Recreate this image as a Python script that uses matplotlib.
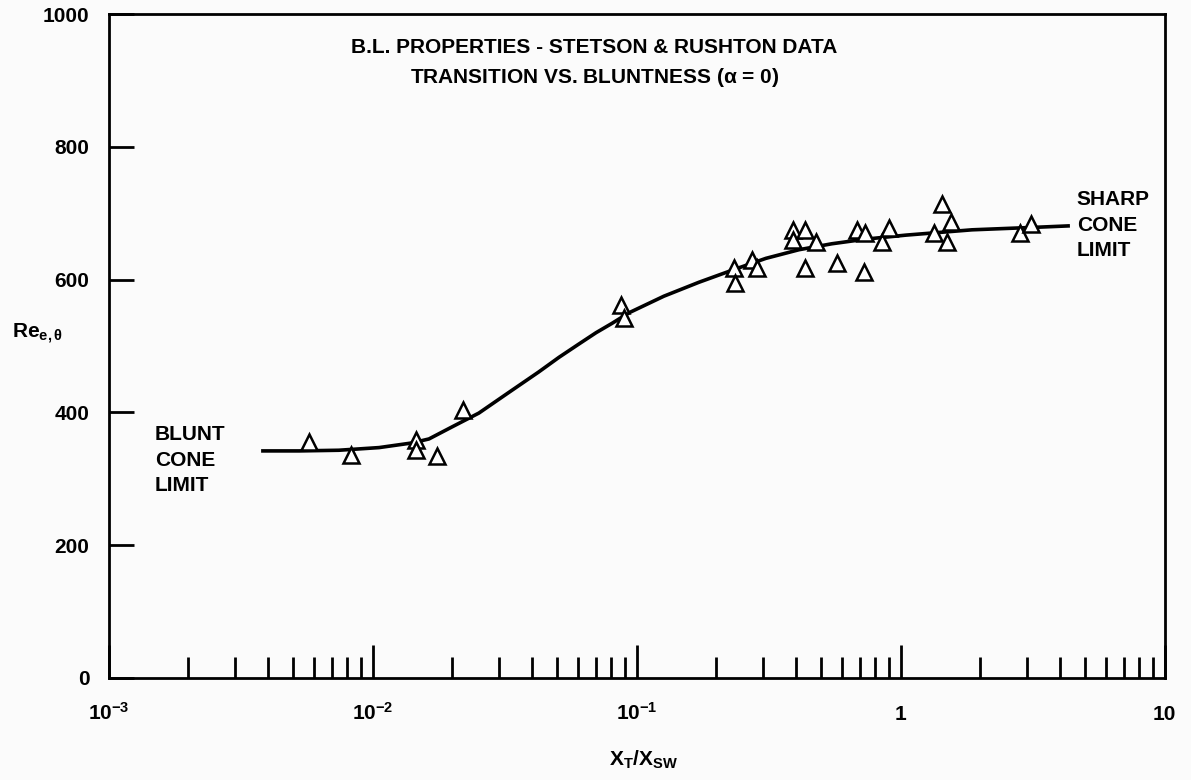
import numpy as np
import matplotlib
matplotlib.use("Agg")
import matplotlib.pyplot as plt
from matplotlib.ticker import FixedLocator, NullFormatter, FixedFormatter

plt.rcParams['font.family'] = ['Liberation Sans', 'DejaVu Sans']
plt.rcParams['font.weight'] = 'bold'
plt.rcParams['mathtext.fontset'] = 'custom'
plt.rcParams['mathtext.rm'] = 'Liberation Sans:bold'
plt.rcParams['mathtext.bf'] = 'Liberation Sans:bold'
plt.rcParams['mathtext.it'] = 'Liberation Sans:bold:italic'
plt.rcParams['mathtext.default'] = 'bf'

# Data points (triangles)
x_data = [0.00573, 0.00826, 0.01455, 0.0146, 0.0175, 0.0219,
          0.0869, 0.089,
          0.233, 0.235, 0.273, 0.285, 0.39, 0.39, 0.433, 0.433, 0.476,
          0.573, 0.681, 0.724, 0.73, 0.847, 0.90,
          1.33, 1.43, 1.49, 1.55, 2.82, 3.1]
y_data = [355, 336, 358, 343, 334, 404,
          562, 542,
          617, 595, 630, 617, 675, 660, 675, 617, 657,
          625, 675, 611, 670, 657, 678,
          670, 714, 657, 687, 670, 684]

# Fitted curve
x_curve = [0.00377, 0.00525, 0.00743, 0.01055, 0.01406, 0.0163, 0.0199,
           0.0252, 0.0327, 0.0425, 0.0507, 0.0603, 0.070, 0.0804, 0.0933, 0.1265,
           0.1718, 0.229, 0.308, 0.411, 0.548, 0.737, 1.045, 1.86,
           3.33, 4.37]
y_curve = [342, 342, 343, 347, 354, 360, 378,
           399, 430, 461, 483, 503, 520, 534, 550, 575,
           596, 614, 632, 645, 654, 661, 667, 675,
           679, 681]

y_ticks = [0, 200, 400, 600, 800, 1000]
x_major = [1e-3, 1e-2, 1e-1, 1, 10]
x_major_labels = [r'$10^{-3}$', r'$10^{-2}$', r'$10^{-1}$', '1', '10']

FS = 15

fig = plt.figure(figsize=(11.91, 7.80), dpi=100)
fig.patch.set_facecolor('#fbfbfb')
ax = fig.add_axes([0.0915, 0.1308, 0.8865, 0.8512])
ax.set_facecolor('#fbfbfb')

ax.plot(x_curve, y_curve, color='black', lw=2.6, solid_capstyle='butt',
        solid_joinstyle='round', zorder=2)
ax.plot(x_data, y_data, linestyle='none', marker='^', markersize=11,
        markerfacecolor='white', markeredgecolor='black', markeredgewidth=1.8, zorder=3)

ax.set_xscale('log')
ax.set_xlim(1e-3, 10)
ax.set_ylim(0, 1000)

for s in ax.spines.values():
    s.set_linewidth(2.0)

ax.set_yticks(y_ticks)
ax.set_yticklabels([str(v) for v in y_ticks])
ax.tick_params(axis='y', which='major', direction='in', length=18, width=2,
               labelsize=FS, pad=14)

ax.xaxis.set_major_locator(FixedLocator(x_major))
ax.xaxis.set_major_formatter(FixedFormatter(x_major_labels))
minor = [m * 10.0**e for e in range(-3, 1) for m in range(2, 10)]
ax.xaxis.set_minor_locator(FixedLocator(minor))
ax.xaxis.set_minor_formatter(NullFormatter())
ax.tick_params(axis='x', which='major', direction='in', length=24, width=2,
               labelsize=FS, pad=30)
ax.tick_params(axis='x', which='minor', direction='in', length=15, width=2)
ax.tick_params(top=False, right=False)
for lab in ax.get_xticklabels():
    lab.set_verticalalignment('baseline')

fig.text(0.540, 0.0256, r'$X_T/X_{SW}$', fontsize=FS, ha='center', va='center')
fig.text(0.010, 1 - 338 / 780, r'$Re_{e,\theta}$', fontsize=FS, ha='left', va='baseline')

ax.text(0.460, 0.950, 'B.L. PROPERTIES - STETSON & RUSHTON DATA', transform=ax.transAxes,
        ha='center', va='center', fontsize=FS, fontweight='bold')
ax.text(0.460, 0.904, r'TRANSITION VS. BLUNTNESS ($\alpha$ = 0)', transform=ax.transAxes,
        ha='center', va='center', fontsize=FS, fontweight='bold')

ax.text(0.0436, 0.328, 'BLUNT\nCONE\nLIMIT', transform=ax.transAxes, ha='left', va='center',
        fontsize=FS, fontweight='bold', linespacing=1.45)
ax.text(0.9167, 0.682, 'SHARP\nCONE\nLIMIT', transform=ax.transAxes, ha='left', va='center',
        fontsize=FS, fontweight='bold', linespacing=1.45)

fig.savefig('out.png', dpi=100, facecolor=fig.get_facecolor())
